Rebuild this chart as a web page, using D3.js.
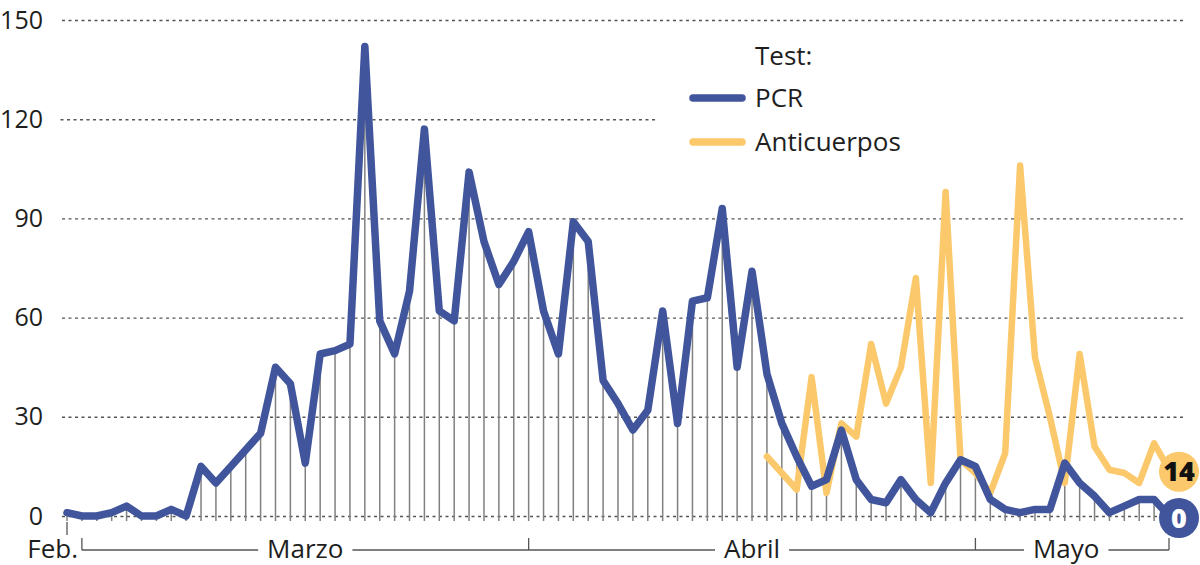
<!DOCTYPE html>
<html>
<head>
  <meta charset="utf-8" />
  <script src="https://d3js.org/d3.v7.min.js"></script>
  <style>
    body{margin:0;background:#fff;}
    svg text{font-family:"Open Sans",sans-serif;}
  </style>
</head>
<body>
<script>
  // daily tests, one value per day from Feb 29 to May 13
  var startDate = new Date(2020, 1, 29);
  var pcrValues = [1,0,0,1,3,0,0,2,0,15,10,15,20,25,45,40,16,49,50,52,
                   142,59,49,68,117,62,59,104,83,70,77,86,62,49,89,83,41,34,26,32,
                   62,28,65,66,93,45,74,43,28,18,9,11,26,11,5,4,11,5,1,10,
                   17,15,5,2,1,2,2,16,10,6,1,3,5,5,0];
  // anticuerpos start on Apr 16
  var antiStart = new Date(2020, 3, 16);
  var antiValues = [18,13,8,42,7,28,24,52,34,45,72,10,98,17,13,7,19,106,48,30,
                    10,49,21,14,13,10,22,14];
  var yTicks = [0, 30, 60, 90, 120, 150];
  var monthNames = ["Marzo", "Abril", "Mayo"];
  var monthFrom = [new Date(2020,2,1), new Date(2020,2,31), new Date(2020,3,30)];
  var monthTo   = [new Date(2020,2,31), new Date(2020,3,30), new Date(2020,4,13)];

  var blue = "#40559b", yellow = "#fbc96b";

  var days = pcrValues.map(function(v, i){
    var date = d3.timeDay.offset(startDate, i);
    var k = d3.timeDay.count(antiStart, date);
    return {date: date, pcr: v, anti: (k >= 0 && k < antiValues.length) ? antiValues[k] : null};
  });
  var endDate = days[days.length-1].date;

  var svg = d3.select('body').append('svg').attr('width', 1200).attr('height', 565);

  var x = d3.scaleTime().domain([startDate, endDate]).range([67, 1169]);
  var y = d3.scaleLinear().domain([0, 150]).range([516, 20]);

  // grid + y labels
  var gridLeft = 60, gridRight = 1183;
  var gy = svg.append('g')
    .attr('transform', 'translate(' + gridRight + ',0)')
    .call(d3.axisLeft(y).tickValues(yTicks).tickSize(gridRight - gridLeft).tickPadding(17));
  gy.select('.domain').remove();
  gy.selectAll('.tick line')
    .attr('stroke', '#555').attr('stroke-width', 1.4).attr('stroke-dasharray', '3,3.5');
  gy.selectAll('.tick text').attr('font-size', 25).attr('fill', '#1e1e1e');
  // the 120 line stops before the legend
  gy.selectAll('.tick').filter(function(d){ return d === 120; }).select('line').attr('x1', 655 - gridRight);

  // grey drops under the PCR line
  svg.append('g').selectAll('line').data(days).enter().append('line')
    .attr('x1', function(d){ return x(d.date); })
    .attr('x2', function(d){ return x(d.date); })
    .attr('y1', y(0) + 5)
    .attr('y2', function(d){ return y(d.pcr); })
    .attr('stroke', '#808080').attr('stroke-width', 1.5);

  var lineAnti = d3.line()
    .defined(function(d){ return d.anti !== null; })
    .x(function(d){ return x(d.date); })
    .y(function(d){ return y(d.anti); });
  var linePcr = d3.line()
    .x(function(d){ return x(d.date); })
    .y(function(d){ return y(d.pcr); });

  svg.append('path').datum(days).attr('d', lineAnti)
    .attr('fill', 'none').attr('stroke', yellow).attr('stroke-width', 6.5)
    .attr('stroke-linejoin', 'round').attr('stroke-linecap', 'round');
  svg.append('path').datum(days).attr('d', linePcr)
    .attr('fill', 'none').attr('stroke', blue).attr('stroke-width', 7.5)
    .attr('stroke-linejoin', 'round').attr('stroke-linecap', 'round');

  // last values
  var last = days[days.length-1];
  var ends = [{v: last.anti, fill: yellow, text: '#111'}, {v: last.pcr, fill: blue, text: '#fff'}];
  var eg = svg.append('g').selectAll('g').data(ends).enter().append('g')
    .attr('transform', function(d){ return 'translate(' + (x(last.date) + 10) + ',' + (y(d.v) + 2) + ')'; });
  eg.append('circle').attr('r', 20).attr('fill', function(d){ return d.fill; });
  eg.append('text').text(function(d){ return d.v; })
    .attr('text-anchor', 'middle').attr('dy', '0.36em')
    .attr('font-size', 27).attr('font-weight', 800)
    .attr('fill', function(d){ return d.text; });

  // month brackets
  var by = 550, bcol = '#555';
  var bg = svg.append('g');
  bg.append('line')
    .attr('x1', x(monthFrom[0])).attr('x2', x(monthTo[monthTo.length-1]))
    .attr('y1', by).attr('y2', by).attr('stroke', bcol).attr('stroke-width', 1.3);
  var tickDates = [monthFrom[0]].concat(monthTo);
  bg.selectAll('.mt').data(tickDates).enter().append('line')
    .attr('x1', function(d){ return x(d); }).attr('x2', function(d){ return x(d); })
    .attr('y1', by).attr('y2', by - 12).attr('stroke', bcol).attr('stroke-width', 1.3);
  // Feb. tick
  bg.append('line').attr('x1', x(startDate)).attr('x2', x(startDate))
    .attr('y1', y(0) + 6).attr('y2', y(0) + 19).attr('stroke', bcol).attr('stroke-width', 1.3);

  var labels = monthNames.map(function(m, i){
    return {name: m, cx: (x(monthFrom[i]) + x(monthTo[i])) / 2};
  });
  labels[2].cx -= 6;
  labels.forEach(function(l){
    var t = bg.append('text').text(l.name)
      .attr('x', l.cx).attr('y', by + 8).attr('text-anchor', 'middle')
      .attr('font-size', 26).attr('fill', '#1e1e1e');
    var b = t.node().getBBox();
    bg.insert('rect', 'text').attr('x', b.x - 9).attr('y', by - 3).attr('width', b.width + 18).attr('height', 6).attr('fill', '#fff');
  });
  bg.append('text').text('Feb.').attr('x', x(startDate) + 11).attr('y', by + 8)
    .attr('text-anchor', 'end').attr('font-size', 26).attr('fill', '#1e1e1e');

  // legend
  var lg = svg.append('g').attr('transform', 'translate(690,0)');
  lg.append('text').text('Test:').attr('x', 65).attr('y', 65).attr('font-size', 26).attr('fill', '#1e1e1e');
  var series = [{name: 'PCR', color: blue, y: 98}, {name: 'Anticuerpos', color: yellow, y: 142}];
  var li = lg.selectAll('.li').data(series).enter().append('g');
  li.append('line').attr('x1', 3).attr('x2', 52)
    .attr('y1', function(d){ return d.y; }).attr('y2', function(d){ return d.y; })
    .attr('stroke', function(d){ return d.color; }).attr('stroke-width', 7.5)
    .attr('stroke-linecap', 'round');
  li.append('text').text(function(d){ return d.name; })
    .attr('x', 65).attr('y', function(d){ return d.y + 9; })
    .attr('font-size', 26).attr('fill', '#1e1e1e');
</script>
</body>
</html>
